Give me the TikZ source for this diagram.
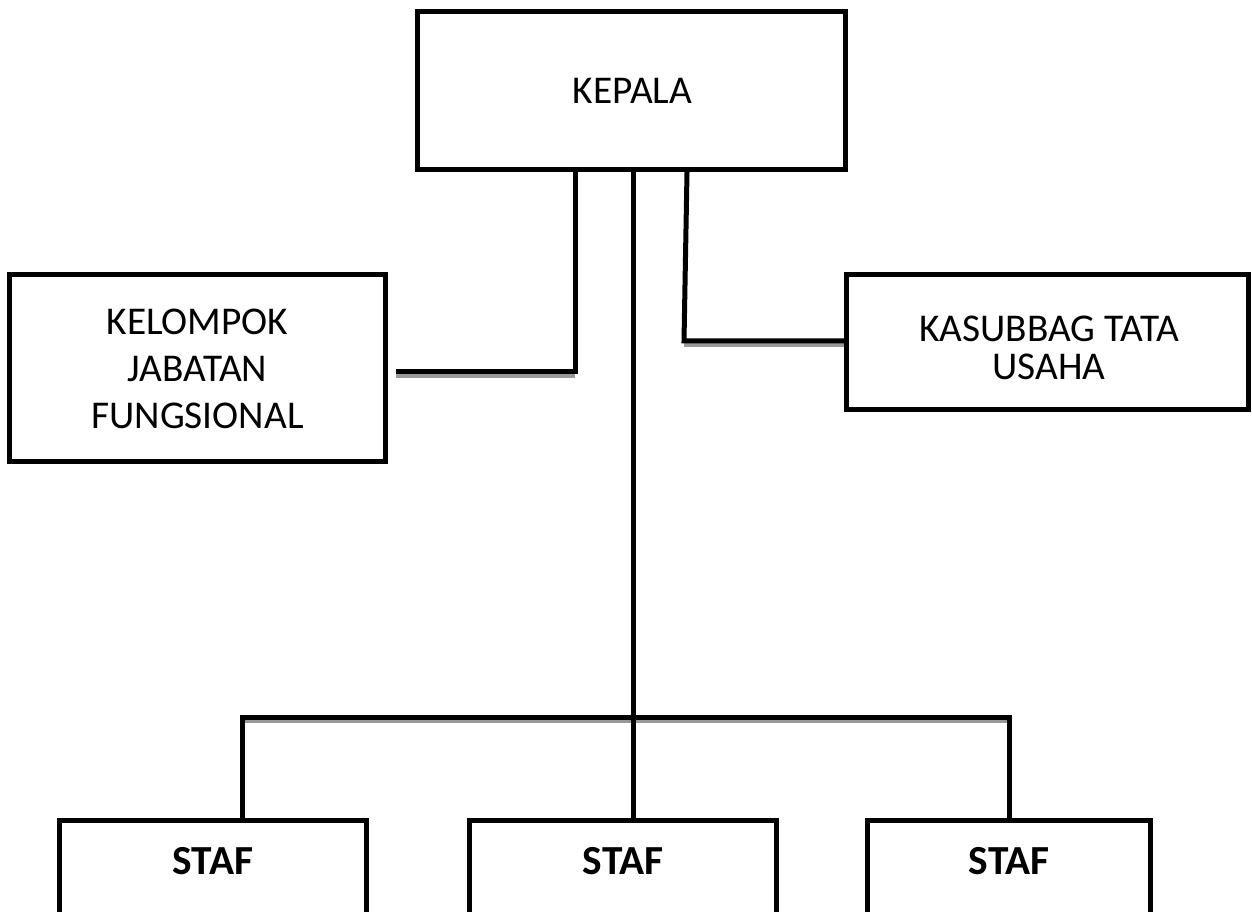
\documentclass[tikz,border=0pt]{standalone}
\usepackage{fontspec}
\setmainfont{Carlito}
\begin{document}
\begin{tikzpicture}[x=0.75pt,y=-0.75pt,
  box/.style={draw=black, line width=3.75pt, inner sep=0pt, fill=none},
  conn/.style={draw=black, line width=3.75pt},
  shade/.style={draw=black!40, line width=3.75pt, transform canvas={yshift=-2.8pt}},
  lbl/.style={inner sep=0pt, text=black, font=\fontsize{29.5pt}{35.25pt}\selectfont},
  lblb/.style={inner sep=0pt, text=black, font=\fontsize{31pt}{37pt}\selectfont\bfseries}]
\useasboundingbox (0,0) rectangle (1252,912);
\clip (0,0) rectangle (1252,912);
\fill[white] (0,0) rectangle (1252,912);

% boxes
\node[box, minimum width=321pt, minimum height=118.5pt] (kep) at (631.5,90.5) {};
\node[box, minimum width=282pt, minimum height=140.25pt] (kel) at (197.5,368) {};
\node[box, minimum width=301.5pt, minimum height=101.25pt] (kas) at (1047.5,342) {};
\node[box, minimum width=230.25pt, minimum height=150pt] (s1) at (213,920.5) {};
\node[box, minimum width=230.25pt, minimum height=150pt] (s2) at (623,920.5) {};
\node[box, minimum width=212.25pt, minimum height=150pt] (s3) at (1009,920.5) {};

% texts
\node[lbl, anchor=base] (tkep) at (632.5,104) {KEPALA};
\node[lbl, align=center] (tkel) at (197.5,369) {KELOMPOK\\JABATAN\\FUNGSIONAL};
\node[lbl, align=center, font=\fontsize{29.5pt}{28.2pt}\selectfont] (tkas) at (1049,348) {KASUBBAG TATA\\USAHA};
\node[lblb, anchor=base] (ts1) at (213,874) {STAF};
\node[lblb, anchor=base] (ts2) at (623,874) {STAF};
\node[lblb, anchor=base] (ts3) at (1009,874) {STAF};

% joints
\coordinate (lj) at (575,372);
\coordinate (lfree) at (396,372);
\coordinate (rtop) at (687,0);
\coordinate (rj) at (684,341);
\coordinate (bar) at (633,717);
\coordinate (b1) at (242,717);
\coordinate (b3) at (1009,717);

% shadows of horizontal segments
\draw[shade] (lfree) -- (lj);
\draw[shade] (rj) -- (rj -| kas.west);
\draw[shade] (b1) -- (b3);

% connectors
\draw[conn] (kep.south -| lj) -- (lj) -- (lfree);
\draw[conn] (kep.south -| rtop) -- (rj) -- (rj -| kas.west);
\draw[conn] (kep.south -| bar) -- (bar);
\draw[conn] (s1.north -| b1) -- (b1) -- (b3) -- (s3.north);
\draw[conn] (bar) -- (s2.north -| bar);
\end{tikzpicture}
\end{document}
